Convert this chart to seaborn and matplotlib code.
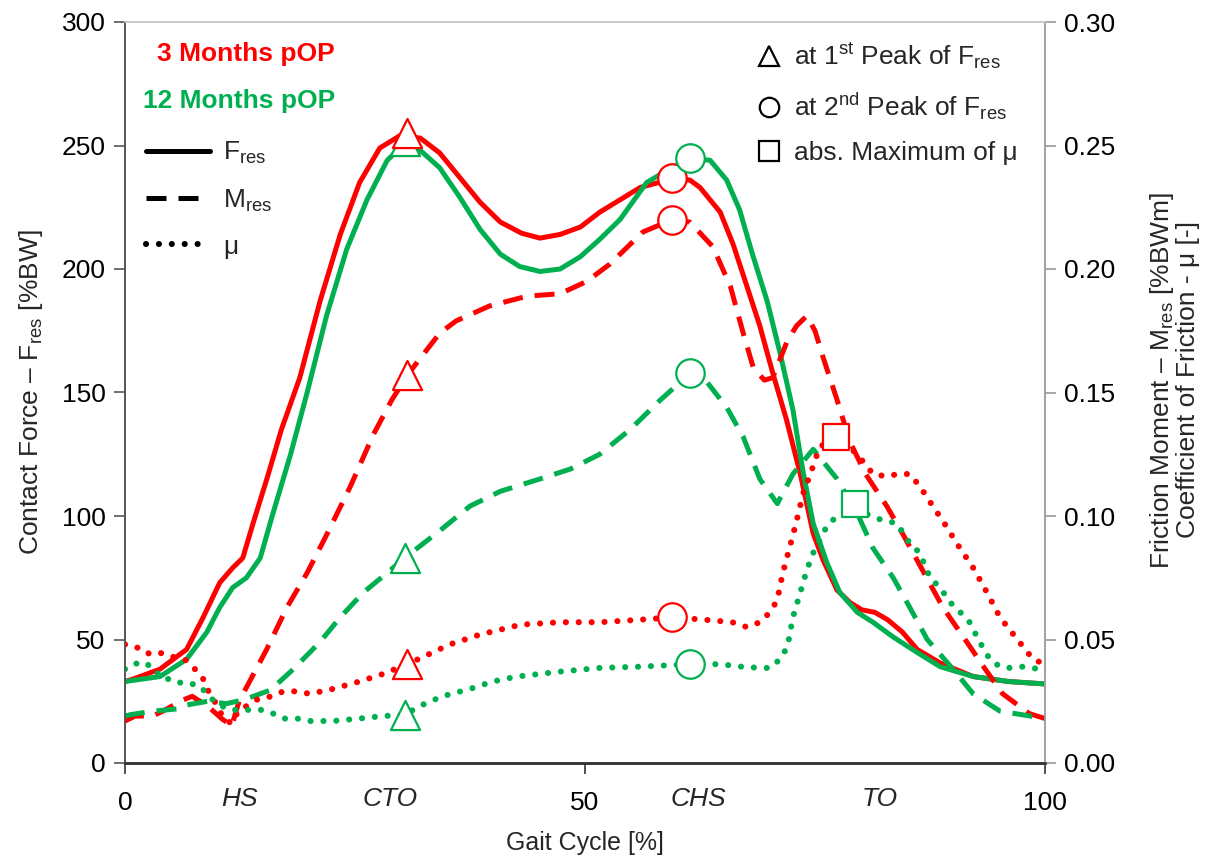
import matplotlib
matplotlib.use('Agg')
import matplotlib.pyplot as plt
from matplotlib.lines import Line2D
from matplotlib.transforms import blended_transform_factory
import seaborn as sns

# ---- data (gait cycle in %) ----
# contact force F_res [%BW]
f3_x = [0, 0.9, 3.8, 6.7, 8.5, 10.3, 11.7, 12.8, 14.0, 15.5, 17.0, 19.0, 21.2, 23.4, 25.5, 27.7,
        29.9, 32.1, 34.2, 36.4, 38.6, 40.8, 43.1, 45.1, 47.3, 49.5, 51.6, 53.8, 56.0, 58.0, 59.5,
        61.4, 62.5, 64.7, 66.1, 67.6, 69.0, 70.4, 71.9, 73.4, 74.8, 75.9, 77.4, 78.8, 80.1, 81.5,
        82.9, 84.5, 86.1, 88.6, 92.2, 96.0, 100]
f3_y = [33, 34, 38, 46, 59, 73, 79, 83, 98, 116, 135, 156, 187, 214, 235, 249,
        254, 253, 247, 237, 227, 219, 214.5, 212.5, 214, 217, 223, 228, 233, 235, 237,
        236, 233, 223, 210, 193, 177, 158, 139, 117, 93, 82, 70, 65, 62, 61,
        58, 53, 46, 40.5, 35, 33, 32]
f12_x = [0, 3.8, 6.7, 8.9, 10.3, 11.7, 13.2, 14.7, 16.0, 18.0, 19.8, 21.9, 24.1, 26.3, 28.5,
         29.9, 32.1, 34.2, 36.4, 38.6, 40.8, 42.9, 45.1, 47.3, 49.5, 51.6, 53.8, 56.7, 58.5,
         60.0, 61.4, 63.6, 65.4, 66.8, 68.2, 69.8, 71.2, 72.6, 73.7, 74.8, 76.3, 77.7, 79.6,
         81.3, 83.5, 86.0, 88.6, 92.2, 96.0, 100]
f12_y = [33, 35, 42, 53, 63, 71, 75, 83, 100, 125, 150, 181, 208, 228, 244,
         249, 248, 241, 229, 216, 206, 201, 199, 200, 205, 212, 220, 235, 239,
         242, 245, 244, 236, 224, 206, 187, 166, 143, 118, 97, 81, 69, 61,
         57, 51, 45, 39, 35, 33, 32]

# friction moment M_res [%BWm]
m3_x = [0, 1.1, 3.0, 4.1, 6.3, 7.3, 9.0, 10.5, 11.6, 12.4, 13.4, 15.4, 17.6, 19.8, 22.0, 24.5,
        27.0, 29.0, 30.7, 31.3, 34.2, 36.0, 39.6, 43.7, 47.3, 50.2, 52.7, 56.3, 59.5, 61.4,
        63.9, 65.8, 67.2, 68.3, 69.5, 70.4, 72.0, 73.0, 74.1, 75.0, 75.9, 77.4, 78.8, 80.5,
        82.8, 84.5, 86.7, 88.9, 91.5, 93.5, 95.4, 98.3, 100]
m3_y = [0.017, 0.019, 0.019, 0.021, 0.0255, 0.027, 0.023, 0.018, 0.015, 0.025, 0.032, 0.046,
        0.063, 0.077, 0.093, 0.112, 0.133, 0.147, 0.157, 0.160, 0.174, 0.179, 0.185, 0.189,
        0.190, 0.195, 0.202, 0.215, 0.220, 0.219, 0.209, 0.193, 0.174, 0.160, 0.155, 0.156,
        0.171, 0.177, 0.181, 0.175, 0.164, 0.147, 0.130, 0.117, 0.104, 0.093, 0.078, 0.063,
        0.049, 0.038, 0.028, 0.020, 0.018]
m12_x = [0, 0.5, 3.0, 6.0, 6.7, 9.0, 11.0, 12.2, 13.2, 15.8, 18.3, 21.2, 23.4, 25.9, 28.5,
         30.4, 34.2, 37.5, 40.8, 45.1, 48.4, 51.6, 54.9, 58.2, 60.3, 61.4, 63.3, 65.4, 67.2,
         69.0, 70.9, 72.6, 74.8, 77.4, 79.6, 81.3, 83.5, 85.3, 87.2, 90.0, 92.2, 95.1, 98.4, 100]
m12_y = [0.019, 0.0195, 0.021, 0.022, 0.0235, 0.025, 0.024, 0.025, 0.026, 0.0295, 0.038,
         0.049, 0.059, 0.069, 0.077, 0.083, 0.094, 0.104, 0.110, 0.115, 0.119, 0.125, 0.135,
         0.147, 0.154, 0.158, 0.154, 0.144, 0.132, 0.115, 0.105, 0.117, 0.127, 0.115, 0.101,
         0.087, 0.075, 0.063, 0.050, 0.038, 0.028, 0.021, 0.019, 0.018]

# coefficient of friction mu [-]
mu3_x = [0, 0.7, 1.8, 2.7, 4.0, 5.2, 6.5, 7.6, 8.5, 9.2, 10.0, 10.7, 11.6, 12.3, 14.5, 16.0,
         17.2, 18.7, 20.1, 22.6, 25.5, 28.0, 30.7, 35.3, 38.6, 43.0, 47.3, 51.6, 56.0, 59.5,
         63.0, 66.0, 67.6, 69.0, 70.1, 70.9, 71.5, 72.3, 73.0, 73.7, 74.5, 75.5, 77.4, 79.6,
         81.3, 82.8, 84.0, 85.3, 86.4, 87.8, 88.9, 90.4, 92.2, 93.7, 95.1, 97.0, 98.7, 100]
mu3_y = [0.048, 0.047, 0.0465, 0.044, 0.0445, 0.043, 0.042, 0.038, 0.034, 0.028, 0.0235,
         0.018, 0.016, 0.021, 0.026, 0.027, 0.029, 0.029, 0.028, 0.030, 0.033, 0.036, 0.040,
         0.048, 0.052, 0.056, 0.057, 0.057, 0.058, 0.059, 0.058, 0.057, 0.055, 0.057, 0.061,
         0.066, 0.077, 0.088, 0.098, 0.109, 0.117, 0.128, 0.132, 0.125, 0.117, 0.116, 0.117,
         0.117, 0.112, 0.104, 0.098, 0.089, 0.079, 0.069, 0.059, 0.050, 0.042, 0.040]
mu12_x = [0, 0.3, 1.8, 2.9, 4.1, 5.2, 6.3, 7.3, 8.2, 9.0, 10.0, 11.4, 13.6, 14.9, 16.1, 17.2,
          18.7, 20.1, 22.6, 25.5, 28.0, 30.4, 32.0, 34.5, 37.5, 40.0, 42.6, 47.3, 51.6, 56.0,
          61.4, 64.7, 67.0, 69.0, 70.1, 71.2, 72.0, 72.6, 73.4, 74.1, 74.8, 76.3, 77.4, 79.3,
          80.5, 81.7, 82.8, 83.9, 85.3, 86.4, 87.5, 88.6, 89.7, 90.8, 91.8, 92.9, 94.0, 95.1,
          96.2, 97.6, 99.5, 100]
mu12_y = [0.038, 0.039, 0.041, 0.039, 0.034, 0.034, 0.032, 0.032, 0.031, 0.0275, 0.024,
          0.0215, 0.0215, 0.0215, 0.020, 0.018, 0.018, 0.017, 0.017, 0.018, 0.019, 0.0195,
          0.023, 0.027, 0.030, 0.033, 0.035, 0.037, 0.0385, 0.039, 0.040, 0.040, 0.039,
          0.0385, 0.0385, 0.042, 0.047, 0.059, 0.069, 0.078, 0.085, 0.096, 0.100, 0.103,
          0.101, 0.099, 0.098, 0.097, 0.089, 0.085, 0.075, 0.071, 0.065, 0.061, 0.057,
          0.049, 0.042, 0.039, 0.0385, 0.039, 0.038, 0.038]

# markers: 1st peak (triangle), 2nd peak (circle), max of mu (square)
tri3_x, tri3_f, tri3_m, tri3_mu = 30.7, 255, 0.157, 0.040
cir3_x, cir3_f, cir3_m, cir3_mu = 59.5, 237, 0.220, 0.059
sq3_x, sq3_mu = 77.3, 0.132
tri12_x, tri12_f, tri12_m, tri12_mu = 30.4, 252, 0.083, 0.0195
cir12_x, cir12_f, cir12_m, cir12_mu = 61.4, 245, 0.158, 0.040
sq12_x, sq12_mu = 79.3, 0.105

events = ['HS', 'CTO', 'CHS', 'TO']
event_x = [12.5, 28.8, 62.3, 82.0]

RED = '#FF0000'
GREEN = '#00B050'

sns.set_style('ticks')
plt.rcParams['font.family'] = ['Liberation Sans', 'DejaVu Sans']
plt.rcParams['mathtext.fontset'] = 'custom'
plt.rcParams['mathtext.rm'] = 'Liberation Sans'
plt.rcParams['mathtext.it'] = 'Liberation Sans:italic'

fig = plt.figure(figsize=(12.06, 8.67), dpi=100)
ax = fig.add_axes([125 / 1206, 104 / 867, 920 / 1206, 741 / 867])
ax2 = ax.twinx()

LW = 3.6
solid = '-'
dashed = (0, (4.0, 2.4))
dotted = (0, (0.01, 2.1))

sns.lineplot(x=f3_x, y=f3_y, ax=ax, color=RED, lw=LW, linestyle=solid, sort=False, estimator=None)
sns.lineplot(x=f12_x, y=f12_y, ax=ax, color=GREEN, lw=LW, linestyle=solid, sort=False, estimator=None)
for xs, ys, c in [(m3_x, m3_y, RED), (m12_x, m12_y, GREEN)]:
    sns.lineplot(x=xs, y=ys, ax=ax2, color=c, lw=LW, linestyle=dashed, sort=False, estimator=None)
for xs, ys, c in [(mu3_x, mu3_y, RED), (mu12_x, mu12_y, GREEN)]:
    sns.lineplot(x=xs, y=ys, ax=ax2, color=c, lw=4.4, linestyle=dotted, dash_capstyle='round',
                 sort=False, estimator=None)

# markers
mk = dict(facecolor='white', linewidth=1.6, zorder=5, legend=False)
sns.scatterplot(x=[tri12_x], y=[tri12_f], ax=ax, marker='^', s=440, edgecolor=GREEN, **mk)
sns.scatterplot(x=[tri3_x], y=[tri3_f], ax=ax, marker='^', s=440, edgecolor=RED, **mk)
sns.scatterplot(x=[cir3_x], y=[cir3_f], ax=ax, marker='o', s=420, edgecolor=RED, **mk)
sns.scatterplot(x=[cir12_x], y=[cir12_f], ax=ax, marker='o', s=420, edgecolor=GREEN, **mk)

sns.scatterplot(x=[tri3_x, tri3_x], y=[tri3_m, tri3_mu], ax=ax2, marker='^', s=440, edgecolor=RED, **mk)
sns.scatterplot(x=[tri12_x, tri12_x], y=[tri12_m, tri12_mu], ax=ax2, marker='^', s=440, edgecolor=GREEN, **mk)
sns.scatterplot(x=[cir3_x, cir3_x], y=[cir3_m, cir3_mu], ax=ax2, marker='o', s=420, edgecolor=RED, **mk)
sns.scatterplot(x=[cir12_x, cir12_x], y=[cir12_m, cir12_mu], ax=ax2, marker='o', s=420, edgecolor=GREEN, **mk)
sns.scatterplot(x=[sq3_x], y=[sq3_mu], ax=ax2, marker='s', s=340, edgecolor=RED, **mk)
sns.scatterplot(x=[sq12_x], y=[sq12_mu], ax=ax2, marker='s', s=340, edgecolor=GREEN, **mk)

# axes
ax.set_xlim(0, 100)
ax.set_ylim(0, 300)
ax2.set_ylim(0, 0.30)
ax.set_xticks([0, 50, 100])
ax.set_yticks(range(0, 301, 50))
ax2.set_yticks([0, 0.05, 0.10, 0.15, 0.20, 0.25, 0.30])
ax2.set_yticklabels([f'{v:.2f}' for v in ax2.get_yticks()])
for a in (ax, ax2):
    a.tick_params(direction='out', length=8, width=1.2, labelsize=19, pad=6, colors='#222222')
ax.tick_params(axis='y', colors='#555555', labelcolor='black')
ax2.tick_params(axis='y', colors='#999999', labelcolor='black')
ax.tick_params(axis='x', colors='#333333', labelcolor='black', pad=12)

for a in (ax, ax2):
    a.spines['top'].set_color('#C8C8C8')
    a.spines['right'].set_color('#A0A0A0')
    a.spines['left'].set_color('#555555')
    a.spines['bottom'].set_color('#333333')
    a.spines['bottom'].set_linewidth(1.8)
    a.spines['top'].set_linewidth(1.2)
    a.spines['left'].set_linewidth(1.2)
    a.spines['right'].set_linewidth(1.2)

ax.set_xlabel('Gait Cycle [%]', fontsize=18, labelpad=12)
ax.set_ylabel(r'Contact Force – F$_\mathregular{res}$ [%BW]', fontsize=19, labelpad=12)
ax2.set_ylabel('')
fig.text(1174 / 1206, 1 - 380 / 867,
         'Friction Moment – M$_\\mathregular{res}$ [%BWm]\nCoefficient of Friction - μ [-]',
         rotation=90, ha='center', va='center', fontsize=19, linespacing=1.0)

# gait events under the x axis
trans = blended_transform_factory(ax.transData, ax.transAxes)
for name, xe in zip(events, event_x):
    ax.text(xe, -0.033, name, transform=trans, ha='center', va='top', fontsize=19, style='italic')

# group labels
ax2.text(22.8, 0.957, '3 Months pOP', transform=trans,
         ha='right', va='center', fontsize=19, fontweight='bold', color=RED)
ax2.text(22.8, 0.894, '12 Months pOP', transform=trans,
         ha='right', va='center', fontsize=19, fontweight='bold', color=GREEN)

# line style legend
style_handles = [Line2D([], [], color='black', lw=LW, linestyle=solid),
                 Line2D([], [], color='black', lw=LW, linestyle=dashed),
                 Line2D([], [], color='black', lw=4.4, linestyle=dotted, dash_capstyle='round')]
style_labels = [r'F$_\mathregular{res}$', r'M$_\mathregular{res}$', 'μ']
leg1 = ax2.legend(style_handles, style_labels, loc='upper left', bbox_to_anchor=(0.006, 0.862),
                  frameon=False, fontsize=19, handlelength=2.4, handletextpad=0.5,
                  labelspacing=0.8, borderaxespad=0.2)
ax2.add_artist(leg1)

mark_handles = [Line2D([], [], ls='none', marker='^', ms=15, mfc='white', mec='black', mew=1.6),
                Line2D([], [], ls='none', marker='o', ms=14, mfc='white', mec='black', mew=1.6),
                Line2D([], [], ls='none', marker='s', ms=14, mfc='white', mec='black', mew=1.6)]
mark_labels = [r'at 1$^\mathregular{st}$ Peak of F$_\mathregular{res}$',
               r'at 2$^\mathregular{nd}$ Peak of F$_\mathregular{res}$',
               'abs. Maximum of μ']
ax2.legend(mark_handles, mark_labels, loc='upper left', bbox_to_anchor=(0.668, 0.995),
           frameon=False, fontsize=19, handlelength=1.0, handletextpad=0.45,
           labelspacing=0.72, borderaxespad=0.2)

fig.savefig('out.png', dpi=100)
